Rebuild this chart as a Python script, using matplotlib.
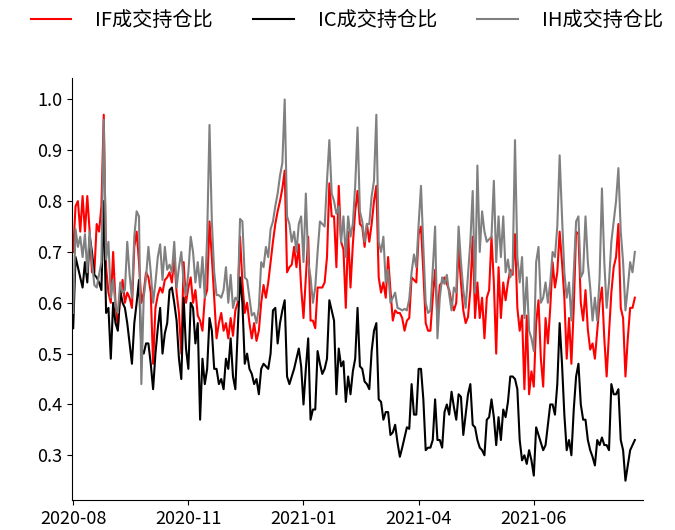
import numpy as np
import matplotlib
matplotlib.use("Agg")
import matplotlib.pyplot as plt

plt.rcParams['font.family'] = ['Noto Sans CJK SC', 'DejaVu Sans']
plt.rcParams['axes.unicode_minus'] = False

# IF 成交持仓比
if_ratio = [
    0.70, 0.79, 0.80, 0.74, 0.81, 0.74, 0.81, 0.74, 0.66, 0.66,
    0.755, 0.74, 0.79, 0.97, 0.67, 0.62, 0.60, 0.70, 0.60, 0.55,
    0.61, 0.645, 0.60, 0.62, 0.61, 0.59, 0.71, 0.74, 0.68, 0.60,
    0.62, 0.66, 0.65, 0.62, 0.48, 0.59, 0.615, 0.63, 0.62, 0.645,
    0.65, 0.66,
    0.64, 0.69, 0.62, 0.58, 0.50, 0.68, 0.60, 0.63, 0.65, 0.60,
    0.625, 0.575, 0.565, 0.545, 0.61, 0.625, 0.76, 0.69, 0.61, 0.53,
    0.56, 0.58, 0.545, 0.56, 0.53, 0.57, 0.535, 0.585, 0.60, 0.73,
    0.64, 0.58, 0.60, 0.56, 0.53, 0.56, 0.525, 0.545, 0.60, 0.635,
    0.61, 0.64, 0.68, 0.72, 0.755, 0.78, 0.80, 0.825, 0.86, 0.66,
    0.67, 0.675, 0.71, 0.67, 0.715, 0.63, 0.57, 0.65, 0.73, 0.565,
    0.565, 0.55, 0.63, 0.63, 0.63, 0.64, 0.69, 0.835, 0.77, 0.77,
    0.67, 0.83, 0.72, 0.705, 0.59, 0.74, 0.63, 0.715, 0.78, 0.82,
    0.755, 0.75, 0.71, 0.755, 0.72, 0.755, 0.80, 0.83, 0.65, 0.62,
    0.64, 0.61, 0.69, 0.625, 0.565, 0.585, 0.58, 0.58, 0.57, 0.545,
    0.565, 0.57, 0.65, 0.645, 0.64, 0.735, 0.75, 0.66, 0.56, 0.545,
    0.545, 0.61, 0.665, 0.57, 0.635, 0.64, 0.65, 0.637, 0.625, 0.60,
    0.585, 0.60, 0.71, 0.64, 0.585, 0.56, 0.572, 0.625, 0.73, 0.57,
    0.64, 0.57, 0.61, 0.53, 0.61, 0.625, 0.73, 0.64, 0.50, 0.67,
    0.57, 0.64, 0.605, 0.64, 0.665, 0.655, 0.735, 0.59, 0.545, 0.575,
    0.43, 0.575, 0.42, 0.465, 0.435, 0.56, 0.605, 0.49, 0.435, 0.57,
    0.52, 0.59, 0.68, 0.63, 0.66, 0.74, 0.68, 0.61, 0.49, 0.57,
    0.48, 0.59, 0.74, 0.735, 0.60, 0.565, 0.625, 0.547, 0.508, 0.52,
    0.49, 0.545, 0.60, 0.63, 0.53, 0.455, 0.54, 0.62, 0.67, 0.69,
    0.755, 0.59, 0.57, 0.455, 0.53, 0.59, 0.59, 0.61,
]

# IC 成交持仓比
ic_ratio = [
    0.55, 0.69, 0.67, 0.65, 0.63, 0.68, 0.64, 0.73, 0.70, 0.655,
    0.65, 0.64, 0.625, 0.80, 0.58, 0.59, 0.49, 0.60, 0.56, 0.545,
    0.625, 0.60, 0.59, 0.56, 0.52, 0.48, 0.56, 0.60, 0.645, 0.51,
    0.50, 0.52, 0.52, 0.48, 0.43, 0.50, 0.55, 0.59, 0.50, 0.54,
    0.56, 0.625,
    0.63, 0.60, 0.565, 0.49, 0.45, 0.61, 0.51, 0.47, 0.60, 0.59,
    0.52, 0.56, 0.37, 0.49, 0.44, 0.47, 0.57, 0.545, 0.47, 0.47,
    0.44, 0.45, 0.43, 0.49, 0.47, 0.53, 0.455, 0.43, 0.545, 0.65,
    0.60, 0.48, 0.50, 0.47, 0.46, 0.44, 0.45, 0.42, 0.47, 0.48,
    0.475, 0.47, 0.50, 0.585, 0.59, 0.52, 0.56, 0.585, 0.605, 0.455,
    0.44, 0.455, 0.47, 0.49, 0.51, 0.475, 0.40, 0.47, 0.53, 0.37,
    0.39, 0.39, 0.505, 0.48, 0.46, 0.47, 0.49, 0.605, 0.585, 0.565,
    0.42, 0.51, 0.475, 0.485, 0.405, 0.455, 0.42, 0.465, 0.49, 0.59,
    0.475, 0.47, 0.445, 0.44, 0.43, 0.505, 0.545, 0.56, 0.41, 0.405,
    0.37, 0.385, 0.385, 0.34, 0.345, 0.36, 0.325, 0.297, 0.315, 0.335,
    0.355, 0.352, 0.44, 0.38, 0.38, 0.47, 0.47, 0.41, 0.31, 0.315,
    0.315, 0.33, 0.41, 0.33, 0.33, 0.315, 0.385, 0.40, 0.38, 0.425,
    0.395, 0.37, 0.42, 0.415, 0.34, 0.38, 0.42, 0.44, 0.36, 0.355,
    0.33, 0.315, 0.31, 0.30, 0.37, 0.375, 0.41, 0.375, 0.32, 0.375,
    0.33, 0.39, 0.375, 0.405, 0.455, 0.455, 0.45, 0.43, 0.33, 0.29,
    0.30, 0.283, 0.31, 0.29, 0.26, 0.355, 0.34, 0.325, 0.31, 0.32,
    0.36, 0.40, 0.40, 0.38, 0.44, 0.56, 0.48, 0.38, 0.31, 0.33,
    0.30, 0.39, 0.455, 0.48, 0.40, 0.37, 0.37, 0.33, 0.31, 0.297,
    0.28, 0.33, 0.32, 0.335, 0.32, 0.32, 0.31, 0.44, 0.42, 0.42,
    0.43, 0.33, 0.31, 0.25, 0.28, 0.31, 0.32, 0.33,
]

# IH 成交持仓比
ih_ratio = [
    0.58, 0.745, 0.71, 0.73, 0.69, 0.735, 0.66, 0.74, 0.68, 0.635,
    0.63, 0.655, 0.68, 0.96, 0.685, 0.72, 0.61, 0.645, 0.595, 0.58,
    0.64, 0.62, 0.625, 0.72, 0.655, 0.61, 0.73, 0.78, 0.77, 0.44,
    0.61, 0.65, 0.71, 0.66, 0.60, 0.64, 0.69, 0.715, 0.645, 0.71,
    0.665, 0.675,
    0.66, 0.72, 0.63, 0.67, 0.70, 0.64, 0.615, 0.66, 0.73, 0.70,
    0.64, 0.68, 0.63, 0.69, 0.61, 0.73, 0.95, 0.76, 0.66, 0.615,
    0.615, 0.61, 0.625, 0.67, 0.60, 0.655, 0.59, 0.61, 0.605, 0.765,
    0.76, 0.65, 0.645, 0.61, 0.575, 0.58, 0.56, 0.59, 0.68, 0.67,
    0.71, 0.69, 0.745, 0.76, 0.79, 0.815, 0.85, 0.875, 1.0, 0.77,
    0.755, 0.72, 0.74, 0.70, 0.755, 0.77, 0.68, 0.815, 0.68, 0.65,
    0.60, 0.63, 0.70, 0.76, 0.755, 0.75, 0.84, 0.92, 0.815, 0.80,
    0.775, 0.79, 0.72, 0.77, 0.69, 0.77, 0.73, 0.755, 0.83, 0.945,
    0.78, 0.76, 0.72, 0.755, 0.755, 0.81, 0.84, 0.97, 0.72, 0.70,
    0.73, 0.64, 0.665, 0.60, 0.61, 0.62, 0.59, 0.588, 0.585, 0.588,
    0.585, 0.607, 0.66, 0.695, 0.67, 0.755, 0.83, 0.71, 0.60, 0.58,
    0.585, 0.665, 0.75, 0.53, 0.61, 0.65, 0.637, 0.655, 0.617, 0.585,
    0.63, 0.62, 0.75, 0.68, 0.625, 0.59, 0.655, 0.72, 0.82, 0.62,
    0.87, 0.70, 0.78, 0.74, 0.72, 0.725, 0.73, 0.84, 0.68, 0.77,
    0.69, 0.77, 0.66, 0.685, 0.65, 0.665, 0.92, 0.69, 0.64, 0.69,
    0.57, 0.65, 0.545, 0.53, 0.505, 0.68, 0.71, 0.60, 0.61, 0.64,
    0.60, 0.64, 0.70, 0.69, 0.75, 0.89, 0.77, 0.66, 0.61, 0.64,
    0.565, 0.66, 0.76, 0.77, 0.65, 0.66, 0.77, 0.68, 0.63, 0.565,
    0.61, 0.565, 0.65, 0.825, 0.68, 0.59, 0.64, 0.72, 0.76, 0.80,
    0.865, 0.74, 0.68, 0.585, 0.63, 0.68, 0.66, 0.70,
]

series_labels = ['IF成交持仓比', 'IC成交持仓比', 'IH成交持仓比']
series_colors = ['#ff0000', '#000000', '#808080']

x_tick_labels = ['2020-08', '2020-11', '2021-01', '2021-04', '2021-06']
x_tick_index = [0, 49, 98, 147, 196]

y_ticks = [0.3, 0.4, 0.5, 0.6, 0.7, 0.8, 0.9, 1.0]

fig = plt.figure(figsize=(6.75, 5.3), dpi=100)
ax = fig.add_axes([0.1067, 0.0566, 0.846, 0.796])

for vals, lab, col in zip([if_ratio, ic_ratio, ih_ratio], series_labels, series_colors):
    ax.plot(np.arange(len(vals)), vals, color=col, lw=1.5, label=lab)

ax.set_xlim(-0.5, 242.5)
ax.set_ylim(0.212, 1.042)
ax.set_yticks(y_ticks)
ax.set_yticklabels([f'{v:.1f}' for v in y_ticks])
ax.set_xticks(x_tick_index)
ax.set_xticklabels(x_tick_labels)
ax.tick_params(labelsize=13)
ax.spines['top'].set_visible(False)
ax.spines['right'].set_visible(False)

fig.legend(ncol=3, frameon=False, loc='center', bbox_to_anchor=(0.514, 0.962),
           fontsize=14.5, handlelength=2.0, handletextpad=1.2, columnspacing=2.0)

fig.savefig('out.png', dpi=100)
